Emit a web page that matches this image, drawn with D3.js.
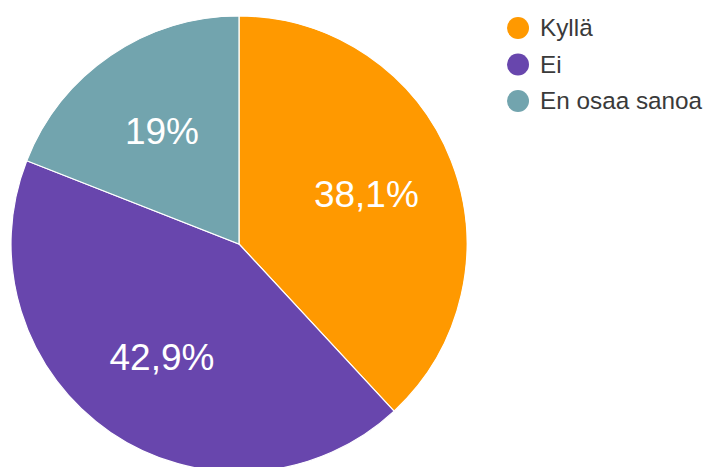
<!DOCTYPE html>
<html>
<head>
<meta charset="utf-8">
<script src="https://d3js.org/d3.v7.min.js"></script>
<style>
  body { margin: 0; background: #fff; }
  svg { display: block; }
</style>
</head>
<body>
<script>
// answers and how many picked each one
const answers = ["Kyllä", "Ei", "En osaa sanoa"];
const counts = [8, 9, 4];
const colors = ["#ff9900", "#6846ad", "#72a4ae"];

const width = 705, height = 467;
const cx = 239, cy = 244, radius = 228;

// finnish number format, 38,1%
const fi = d3.formatLocale({ decimal: ",", thousands: "\u00a0", grouping: [3], currency: ["", " €"] });
const pct = fi.format(".1~%");

const total = d3.sum(counts);
const data = answers.map((a, i) => ({ name: a, value: counts[i] }));

const color = d3.scaleOrdinal().domain(answers).range(colors);

const svg = d3.select("body").append("svg")
  .attr("width", width)
  .attr("height", height);

const g = svg.append("g").attr("transform", `translate(${cx},${cy})`);

const pie = d3.pie().sort(null).value(d => d.value);
const arc = d3.arc().innerRadius(0).outerRadius(radius);
const labelArc = d3.arc().innerRadius(radius * 0.6).outerRadius(radius * 0.6);

const arcs = pie(data);

g.selectAll("path")
  .data(arcs)
  .enter()
  .append("path")
  .attr("d", arc)
  .attr("fill", d => color(d.data.name))
  .attr("stroke", "#fff")
  .attr("stroke-width", 1.2);

g.selectAll("text")
  .data(arcs)
  .enter()
  .append("text")
  .attr("transform", d => `translate(${labelArc.centroid(d)})`)
  .attr("text-anchor", "middle")
  .attr("dy", "0.36em")
  .attr("font-family", "Arial, 'Liberation Sans', sans-serif")
  .attr("font-size", 37)
  .attr("fill", "#fff")
  .text(d => pct(d.data.value / total));

// legend on the right
const legend = svg.append("g").attr("transform", "translate(518,28)");
const row = 36.5;

const item = legend.selectAll("g")
  .data(answers)
  .enter()
  .append("g")
  .attr("transform", (d, i) => `translate(0,${i * row})`);

item.append("circle")
  .attr("r", 11)
  .attr("fill", d => color(d));

item.append("text")
  .attr("x", 22)
  .attr("y", 8)
  .attr("font-family", "Arial, 'Liberation Sans', sans-serif")
  .attr("font-size", 24.3)
  .attr("fill", "#3a3a3a")
  .text(d => d);
</script>
</body>
</html>
